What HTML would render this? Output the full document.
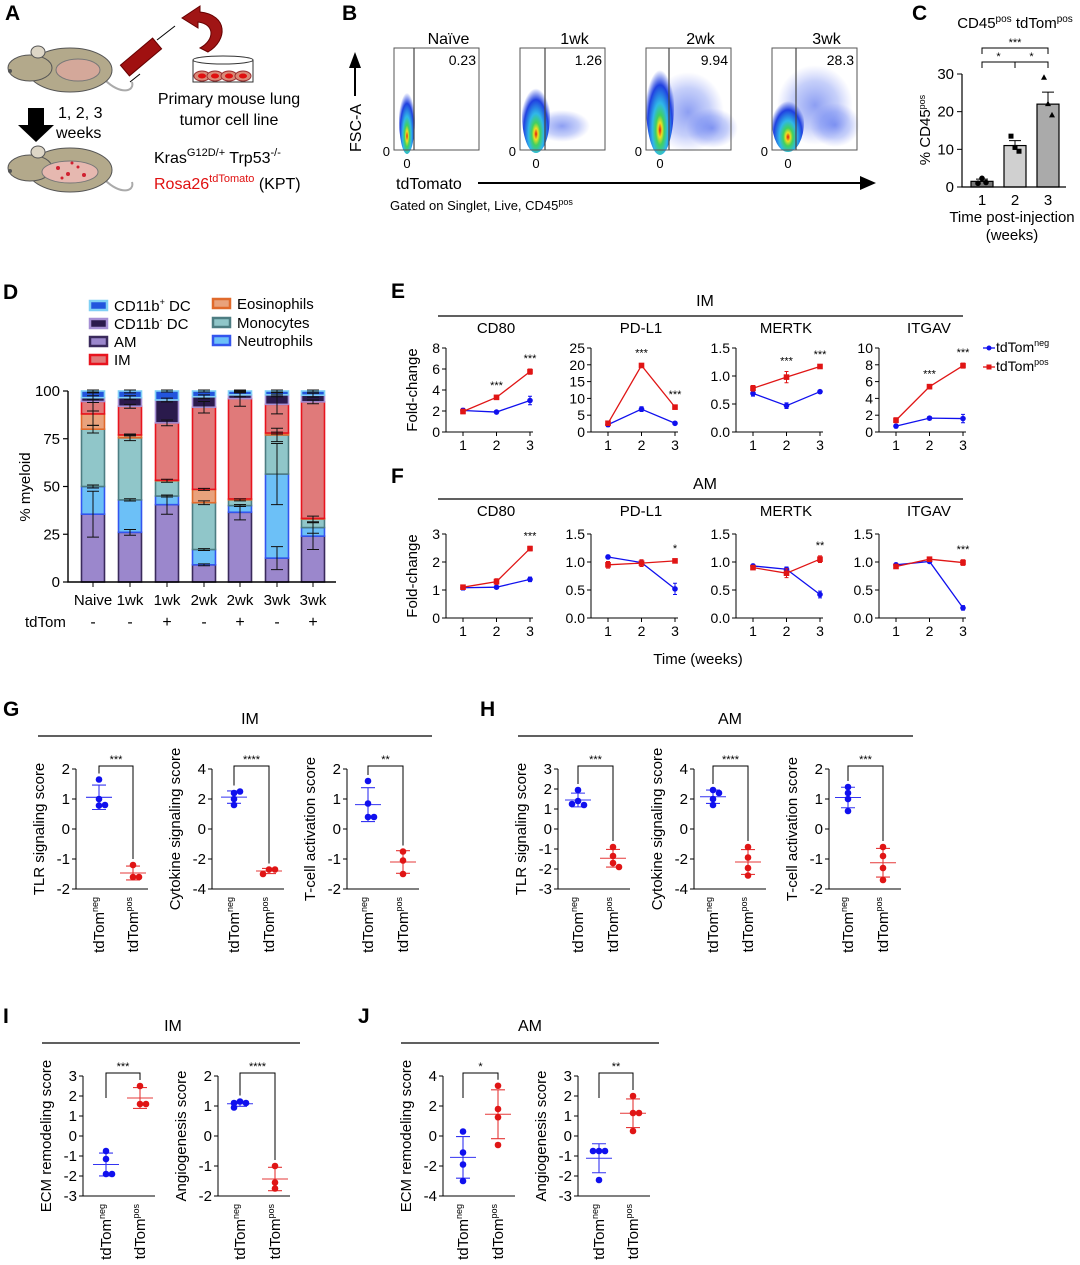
<!DOCTYPE html>
<html><head><meta charset="utf-8"><style>
html,body{margin:0;padding:0;background:#fff}
svg{display:block;font-family:"Liberation Sans",Arial,sans-serif}
</style></head><body>
<svg id="fig" width="1080" height="1265" viewBox="0 0 1080 1265" xmlns="http://www.w3.org/2000/svg">
<defs>
<radialGradient id="den" cx="50%" cy="75%" r="60%">
<stop offset="0" stop-color="#e01010"/><stop offset="0.12" stop-color="#f0e020"/><stop offset="0.25" stop-color="#40d060"/><stop offset="0.45" stop-color="#30b8e8"/><stop offset="0.75" stop-color="#2040e0"/><stop offset="1" stop-color="#2040e0" stop-opacity="0"/>
</radialGradient>
<radialGradient id="cloud" cx="50%" cy="50%" r="50%">
<stop offset="0" stop-color="#3050e8" stop-opacity="0.55"/><stop offset="0.6" stop-color="#4060ee" stop-opacity="0.3"/><stop offset="1" stop-color="#6070f0" stop-opacity="0"/>
</radialGradient>
</defs>
<g font-weight="bold" font-size="21">
<text x="5" y="20">A</text>
<text x="342" y="20">B</text>
<text x="912" y="20">C</text>
<text x="3" y="299">D</text>
<text x="391" y="298">E</text>
<text x="391" y="483">F</text>
<text x="3" y="716">G</text>
<text x="480" y="716">H</text>
<text x="3" y="1023">I</text>
<text x="358" y="1023">J</text>
</g>
<g stroke="#555" stroke-width="1">
<g>
<path d="M105,80 C120,95 135,92 132,82" fill="none" stroke="#aaa" stroke-width="2"/>
<ellipse cx="70" cy="70" rx="42" ry="22" fill="#b3a98b"/>
<ellipse cx="30" cy="68" rx="22" ry="13" fill="#b3a98b"/>
<ellipse cx="38" cy="52" rx="7" ry="6" fill="#ddd6c6"/>
<ellipse cx="78" cy="70" rx="22" ry="11" fill="#d4a89a" stroke="#777"/>
<circle cx="10" cy="71" r="1.5" fill="#555"/>
</g>
<g>
<path d="M105,180 C120,195 135,192 132,182" fill="none" stroke="#aaa" stroke-width="2"/>
<ellipse cx="70" cy="170" rx="42" ry="22" fill="#b3a98b"/>
<ellipse cx="30" cy="168" rx="22" ry="13" fill="#b3a98b"/>
<ellipse cx="38" cy="152" rx="7" ry="6" fill="#ddd6c6"/>
<ellipse cx="70" cy="172" rx="28" ry="11" fill="#e6b8b0" stroke="#777"/>
<g fill="#d02030" stroke="none"><circle cx="58" cy="168" r="2"/><circle cx="68" cy="174" r="2"/><circle cx="78" cy="167" r="1.5"/><circle cx="62" cy="178" r="1.5"/><circle cx="84" cy="175" r="2"/><circle cx="72" cy="163" r="1.5"/></g>
<circle cx="10" cy="171" r="1.5" fill="#555"/>
</g>
<polygon points="28,108 44,108 44,125 54,125 36,142 18,125 28,125" fill="#000" stroke="none"/>
<g>
<line x1="130" y1="82" x2="140" y2="74" stroke="#000"/>
<rect x="134" y="36" width="14" height="42" fill="#a01010" stroke="#600" transform="rotate(50 141 57)"/>
<line x1="157" y1="40" x2="175" y2="26" stroke="#000"/>
<path d="M208,52 C228,40 228,15 200,12 L200,6 L182,18 L198,28 L198,22 C215,24 215,40 200,48 Z" fill="#a01515" stroke="#600"/>
</g>
<g>
<rect x="193" y="60" width="60" height="22" fill="#fff" stroke="#333"/>
<ellipse cx="223" cy="60" rx="30" ry="4" fill="#fff" stroke="#333"/>
<g fill="#d98a78" stroke="#933"><ellipse cx="202" cy="76" rx="8" ry="5"/><ellipse cx="215" cy="76" rx="8" ry="5"/><ellipse cx="229" cy="76" rx="8" ry="5"/><ellipse cx="243" cy="76" rx="8" ry="5"/></g>
<g fill="#e01010" stroke="none"><ellipse cx="202" cy="76" rx="4" ry="2.5"/><ellipse cx="215" cy="76" rx="4" ry="2.5"/><ellipse cx="229" cy="76" rx="4" ry="2.5"/><ellipse cx="243" cy="76" rx="4" ry="2.5"/></g>
</g>
</g>
<g font-size="16" fill="#000">
<text x="58" y="118">1, 2, 3</text>
<text x="56" y="138">weeks</text>
<text x="229" y="104" text-anchor="middle">Primary mouse lung</text>
<text x="229" y="125" text-anchor="middle">tumor cell line</text>
<text x="154" y="163">Kras<tspan font-size="11" dy="-7">G12D/+</tspan><tspan dy="7"> Trp53</tspan><tspan font-size="11" dy="-7">-/-</tspan></text>
<text x="154" y="189"><tspan fill="#e01010">Rosa26</tspan><tspan fill="#e01010" font-size="11" dy="-7">tdTomato</tspan><tspan dy="7"> (KPT)</tspan></text>
</g>
<g>
<text x="0" y="0" font-size="16" transform="translate(361,152) rotate(-90)">FSC-A</text>
<line x1="355" y1="96" x2="355" y2="66" stroke="#000" stroke-width="2"/>
<polygon points="349,68 361,68 355,52" fill="#000"/>
<text x="396" y="189" font-size="16">tdTomato</text>
<line x1="478" y1="183" x2="862" y2="183" stroke="#000" stroke-width="2"/>
<polygon points="860,176 876,183 860,190" fill="#000"/>
<text x="390" y="210" font-size="13">Gated on Singlet, Live, CD45<tspan font-size="9" dy="-5">pos</tspan></text>
</g>
<g id="flow"></g>
<g id="charts"></g>
</svg>
<script>
// ---------- data ----------
const flowLabels=['Naïve','1wk','2wk','3wk'];
const flowPct=['0.23','1.26','9.94','28.3'];

const cWeeks=['1','2','3'];
const cMeans=[1.5,11,22];
const cSem=[0.6,1.3,3.2];
const cPts=[[1.0,2.3,1.2],[13.5,10.5,9.5],[29,22,19]];

const dCats=['Naive','1wk','1wk','2wk','2wk','3wk','3wk'];
const dTdTom=['-','-','+','-','+','-','+'];
const dSeries=['AM','Neutrophils','Monocytes','Eosinophils','IM','CD11b- DC','CD11b+ DC'];
const dAM=[35.5,26,40.5,9,36.5,12.5,24];
const dNeut=[14.5,17,4.5,8,3.5,44,4.5];
const dMono=[30,32.5,8,24.5,3,20.5,4.5];
const dEos=[8,1.5,0.3,7,0.5,1,0.3];
const dIM=[6.5,15,30,43,52.5,15,61];
const dDCm=[2,4.5,12,5.5,2,5,3.5];
const dDCp=[3.5,3.5,4.7,3,2,2,2.2];
const dErrAM=[12,1.5,5,0.5,4,6,7];
const dErrNeut=[0.8,0.6,0.5,0.5,0.5,16,3];
const dErrMono=[2,1.5,0.8,1,0.5,3.5,1.5];
const dErrEos=[6,0.5,0,0.5,0,0.5,0];
const dErrIM=[5,1,1.5,3,4,5,1];
const dErrDCm=[1,1,1,1,1,1,1];
const dErrDCp=[1,1,0.5,0.5,0.5,0.5,0.5];

const weeks=[1,2,3];
const eTitles=['CD80','PD-L1','MERTK','ITGAV'];
const eMax=[8,25,1.5,10];
const eTicks=[['0','2','4','6','8'],['0','5','10','15','20','25'],['0.0','0.5','1.0','1.5'],['0','2','4','6','8','10']];
const eNeg=[[2.05,1.9,3.0],[2.2,6.8,2.6],[0.69,0.47,0.72],[0.7,1.65,1.6]];
const ePos=[[1.95,3.3,5.75],[2.6,19.8,7.4],[0.78,0.98,1.17],[1.4,5.4,7.9]];
const eNegErr=[[0.2,0.15,0.4],[0.6,0.7,0.3],[0.05,0.05,0.02],[0.2,0.2,0.5]];
const ePosErr=[[0.2,0.15,0.25],[0.5,0.6,0.6],[0.05,0.1,0.03],[0.3,0.25,0.3]];
const eStars=[['','***','***'],['','***','***'],['','***','***'],['','***','***']];
const fMax=[3,1.5,1.5,1.5];
const fTicks=[['0','1','2','3'],['0.0','0.5','1.0','1.5'],['0.0','0.5','1.0','1.5'],['0.0','0.5','1.0','1.5']];
const fNeg=[[1.08,1.1,1.38],[1.09,0.99,0.52],[0.93,0.87,0.42],[0.95,1.01,0.18]];
const fPos=[[1.1,1.3,2.48],[0.95,0.98,1.02],[0.9,0.8,1.05],[0.92,1.05,0.99]];
const fNegErr=[[0.08,0.05,0.08],[0.03,0.03,0.1],[0.03,0.04,0.06],[0.03,0.03,0.04]];
const fPosErr=[[0.08,0.1,0.08],[0.06,0.06,0.03],[0.03,0.08,0.06],[0.03,0.03,0.05]];
const fStars=[['','','***'],['','','*'],['','','**'],['','','***']];

const gTitles=['TLR signaling score','Cytokine signaling score','T-cell activation score'];
const gTicks=[[2,1,0,-1,-2],[4,2,0,-2,-4],[2,1,0,-1,-2]];
const gNeg=[[1.65,1.0,0.78,0.8],[2.4,2.5,2.0,1.6],[1.6,0.85,0.4,0.4]];
const gPos=[[-1.2,-1.6,-1.6],[-2.7,-2.7,-3.0],[-0.75,-1.05,-1.5]];
const gStars=['***','****','**'];
const hTicks=[[3,2,1,0,-1,-2,-3],[4,2,0,-2,-4],[2,1,0,-1,-2]];
const hNeg=[[1.95,1.4,1.2,1.25],[2.6,2.4,2.0,1.6],[1.4,1.2,1.0,0.6]];
const hPos=[[-0.9,-1.35,-1.7,-1.9],[-1.2,-1.9,-2.6,-3.1],[-0.6,-0.9,-1.3,-1.7]];
const hStars=['***','****','***'];
const iTitles=['ECM remodeling score','Angiogenesis score'];
const iTicks=[[3,2,1,0,-1,-2,-3],[2,1,0,-1,-2]];
const iNeg=[[-0.75,-1.15,-1.9,-1.9],[1.15,1.1,1.1,0.95]];
const iPos=[[2.5,1.6,1.6],[-1.0,-1.55,-1.75]];
const iStars=['***','****'];
const jTicks=[[4,2,0,-2,-4],[3,2,1,0,-1,-2,-3]];
const jNeg=[[0.3,-1.1,-1.9,-3.0],[-0.75,-0.75,-0.75,-2.2]];
const jPos=[[3.35,1.8,1.25,-0.6],[2.0,1.15,1.15,0.25]];
const jStars=['*','**'];

// ---------- helpers ----------
const NS='http://www.w3.org/2000/svg';
function mk(tag,attrs,parent){const e=document.createElementNS(NS,tag);for(const k in attrs)e.setAttribute(k,attrs[k]);parent.appendChild(e);return e;}
function tx(parent,x,y,s,attrs){const t=mk('text',Object.assign({x:x,y:y},attrs||{}),parent);t.textContent=s;return t;}
const root=document.getElementById('charts');
const BLUE='#1010ee',RED='#e01515';
function mean(a){return a.reduce((p,c)=>p+c,0)/a.length;}
function sd(a){const m=mean(a);return Math.sqrt(a.reduce((p,c)=>p+(c-m)*(c-m),0)/(a.length-1));}

// ---------- Panel B flow ----------
(function(){
  const fg=document.getElementById('flow');
  const bx=[394,520,646,772];
  const gate=[414,545,669,796];
  const shapes=[
    {cx:407,cy:118,rx:8,ry:36,c:[]},
    {cx:536,cy:115,rx:14,ry:38,c:[[562,126,28,16]]},
    {cx:660,cy:105,rx:14,ry:50,c:[[688,112,36,40],[712,128,26,20]]},
    {cx:788,cy:122,rx:16,ry:30,c:[[815,105,38,40],[835,125,25,22]]}
  ];
  for(let i=0;i<4;i++){
    const g=mk('g',{},fg);
    
    
    const x0=bx[i],w=85,y0=48,h=102;
    const t=tx(g,x0+w/2+12,44,flowLabels[i],{'font-size':16,'text-anchor':'middle'});
    
    
    shapes[i].c.forEach(c=>{const e=mk('ellipse',{cx:c[0],cy:c[1],rx:c[2],ry:c[3],fill:'url(#cloud)'},g);
      
      });
    const s=shapes[i];
    const d=mk('ellipse',{cx:s.cx,cy:s.cy,rx:s.rx,ry:s.ry,fill:'url(#den)'},g);
    
    
    const b=mk('rect',{x:x0,y:y0,width:w,height:h,fill:'none',stroke:'#555','stroke-width':1},g);
    
    
    const gl=mk('line',{x1:gate[i],y1:y0,x2:gate[i],y2:y0+h,stroke:'#444','stroke-width':1.2},g);
    
    
    const p=tx(g,x0+w-3,65,flowPct[i],{'font-size':14,'text-anchor':'end'});
    
    
    const z1=tx(g,x0-4,156,'0',{'font-size':13,'text-anchor':'end'});
    
    
    const z2=tx(g,s.cx,168,'0',{'font-size':13,'text-anchor':'middle'});
    
    
  }
})();

// ---------- Panel C ----------
(function(){
  const g=mk('g',{},root);
  
  
  const ax=962,y0=187,ppu=(187-74)/30;
  const ys=v=>y0-v*ppu;
  const xs=[982,1015,1048];
  const cols=['#777','#d0d0d0','#aaa'];
  const t=tx(g,1015,28,'CD45',{'font-size':15,'text-anchor':'middle'});
  t.innerHTML='CD45<tspan font-size="10" dy="-6">pos</tspan><tspan dy="6"> tdTom</tspan><tspan font-size="10" dy="-6">pos</tspan>';
  
  
  [0,10,20,30].forEach(v=>{
    const tk=mk('line',{x1:ax-5,x2:ax,y1:ys(v),y2:ys(v),stroke:'#000'},g);
    
    
    const l=tx(g,ax-8,ys(v)+5,String(v),{'font-size':15,'text-anchor':'end'});
    
    
  });
  cMeans.forEach((m,i)=>{
    const r=mk('rect',{x:xs[i]-11,y:ys(m),width:22,height:y0-ys(m),fill:cols[i],stroke:'#000','stroke-width':1.2},g);
    
    
    const e=mk('path',{d:`M${xs[i]},${ys(m)} V${ys(m+cSem[i])} M${xs[i]-6},${ys(m+cSem[i])} H${xs[i]+6}`,stroke:'#000',fill:'none'},g);
    
    
    cPts[i].forEach((v,j)=>{
      const px=xs[i]+(j-1)*4;
      let d;
      if(i==0) d=mk('circle',{cx:px,cy:ys(v),r:2.8,fill:'#000'},g);
      else if(i==1) d=mk('rect',{x:px-2.5,y:ys(v)-2.5,width:5,height:5,fill:'#000'},g);
      else d=mk('path',{d:`M${px},${ys(v)-3.5} L${px+3},${ys(v)+2} L${px-3},${ys(v)+2} Z`,fill:'#000'},g);
      
      
    });
    const xl=tx(g,xs[i],205,cWeeks[i],{'font-size':15,'text-anchor':'middle'});
    
    
  });
  const axl=mk('path',{d:`M${ax},${ys(30)} V${y0} H1066`,stroke:'#000',fill:'none','stroke-width':1.2},g);
  
  
  const brs=[[xs[0],xs[2],48,'***'],[xs[0],xs[1],62,'*'],[xs[1],xs[2],62,'*']];
  brs.forEach(b=>{
    const p=mk('path',{d:`M${b[0]},${b[2]+6} V${b[2]} H${b[1]} V${b[2]+6}`,stroke:'#000',fill:'none'},g);
    
    
    const s=tx(g,(b[0]+b[1])/2,b[2]-2,b[3],{'font-size':11,'text-anchor':'middle'});
    
    
  });
  const yl=tx(g,0,0,'',{'font-size':15,'text-anchor':'middle',transform:'translate(930,130) rotate(-90)'});
  yl.innerHTML='% CD45<tspan font-size="9" dy="-5">pos</tspan>';
  
  
  const x1=tx(g,1012,222,'Time post-injection',{'font-size':15,'text-anchor':'middle'});
  
  
  const x2=tx(g,1012,240,'(weeks)',{'font-size':15,'text-anchor':'middle'});
  
  
})();

// ---------- Panel D ----------
(function(){
  const g=mk('g',{},root);
  
  
  const ax=68,y0=582,ppu=(582-391)/100;
  const ys=v=>y0-v*ppu;
  const xs=[93,130,167,204,240,277,313];
  const series=[dAM,dNeut,dMono,dEos,dIM,dDCm,dDCp];
  const errs=[dErrAM,dErrNeut,dErrMono,dErrEos,dErrIM,dErrDCm,dErrDCp];
  const fills=['#9b87cc','#6cc0f7','#90c6c9','#e9a27c','#e07a7a','#2a1a4c','#2255dd'];
  const strokes=['#3a2a5c','#3355ee','#4d7d82','#e06a2c','#e8141e','#a58fd4','#80d0f5'];
  const legend=[[90,311,6,'CD11b','+',' DC'],[90,329,5,'CD11b','-',' DC'],[90,347,0,'AM','',''],[90,365,4,'IM','',''],[213,309,3,'Eosinophils','',''],[213,328,2,'Monocytes','',''],[213,346,1,'Neutrophils','','']];
  legend.forEach(L=>{
    const r=mk('rect',{x:L[0],y:L[1]-10,width:17,height:9,fill:fills[L[2]],stroke:strokes[L[2]],'stroke-width':2.5},g);
    
    
    const t=tx(g,L[0]+24,L[1],'',{'font-size':15});
    t.innerHTML=L[3]+(L[4]?'<tspan font-size="9" dy="-6">'+L[4]+'</tspan><tspan dy="6">'+L[5]+'</tspan>':'');
    
    
  });
  [0,25,50,75,100].forEach(v=>{
    const tk=mk('line',{x1:ax-5,x2:ax,y1:ys(v),y2:ys(v),stroke:'#000','stroke-width':1.2},g);
    
    
    const l=tx(g,ax-8,ys(v)+5,String(v),{'font-size':15,'text-anchor':'end'});
    
    
  });
  xs.forEach((x,i)=>{
    let base=0;
    series.forEach((s,k)=>{
      const v=s[i];
      const r=mk('rect',{x:x-11.5,y:ys(base+v),width:23,height:v*ppu,fill:fills[k],stroke:strokes[k],'stroke-width':1.6},g);
      
      
      base+=v;
    });
    base=0;
    series.forEach((s,k)=>{
      base+=s[i];const e=errs[k][i];
      if(e>0){
        const p=mk('path',{d:`M${x},${ys(base-e)} V${ys(Math.min(base+e,100.5))} M${x-6},${ys(base-e)} H${x+6} M${x-6},${ys(Math.min(base+e,100.5))} H${x+6}`,stroke:'#111',fill:'none','stroke-width':1},g);
        
        
      }
    });
    const tk=mk('line',{x1:x,x2:x,y1:y0,y2:y0+5,stroke:'#000'},g);
    
    
    const l=tx(g,x,605,dCats[i],{'font-size':15,'text-anchor':'middle'});
    
    
    const s=tx(g,x,627,dTdTom[i],{'font-size':16,'text-anchor':'middle'});
    
    
  });
  const axl=mk('path',{d:`M${ax},${ys(100)} V${y0} H336`,stroke:'#000',fill:'none','stroke-width':1.4},g);
  
  
  const tl=tx(g,25,627,'tdTom',{'font-size':15});
  
  
  const yl=tx(g,0,0,'% myeloid',{'font-size':15,'text-anchor':'middle',transform:'translate(30,487) rotate(-90)'});
  
  
})();

// ---------- Panels E,F ----------
function lineRow(name,header,yHead,yTop,y0,maxes,ticks,neg,pos,negE,posE,stars){
  const g=mk('g',{},root);
  
  
  const h=tx(g,705,yHead,header,{'font-size':16,'text-anchor':'middle'});
  
  
  const hl=mk('line',{x1:438,x2:963,y1:yHead+10,y2:yHead+10,stroke:'#000','stroke-width':1.2},g);
  
  
  const axes=[446,591,736,879];
  const yl=tx(g,0,0,'Fold-change',{'font-size':15,'text-anchor':'middle',transform:`translate(417,${(yTop+y0)/2}) rotate(-90)`});
  
  
  for(let p=0;p<4;p++){
    const ax=axes[p];
    const ys=v=>y0-v/maxes[p]*(y0-yTop);
    const xs=w=>ax+17+(w-1)*33.5;
    const t=tx(g,ax+50,yHead+27,eTitles[p],{'font-size':15,'text-anchor':'middle'});
    
    
    const n=ticks[p].length;
    ticks[p].forEach((lab,k)=>{
      const v=maxes[p]*k/(n-1);
      const tk=mk('line',{x1:ax-4,x2:ax,y1:ys(v),y2:ys(v),stroke:'#000'},g);
      
      
      const l=tx(g,ax-6,ys(v)+5,lab,{'font-size':14,'text-anchor':'end'});
      
      
    });
    weeks.forEach(w=>{
      const tk=mk('line',{x1:xs(w),x2:xs(w),y1:y0,y2:y0+4,stroke:'#000'},g);
      
      
      const l=tx(g,xs(w),y0+18,String(w),{'font-size':14,'text-anchor':'middle'});
      
      
    });
    const axl=mk('path',{d:`M${ax},${yTop} V${y0} H${ax+87}`,stroke:'#000',fill:'none'},g);
    
    
    [[neg[p],negE[p],BLUE,'tdtom-neg'],[pos[p],posE[p],RED,'tdtom-pos']].forEach(S=>{
      const d=S[0].map((v,k)=>(k?'L':'M')+xs(weeks[k])+','+ys(v)).join(' ');
      const ln=mk('path',{d:d,stroke:S[2],fill:'none','stroke-width':1.3},g);
      
      
      S[0].forEach((v,k)=>{
        const x=xs(weeks[k]);
        const eb=mk('path',{d:`M${x},${ys(v-S[1][k])} V${ys(v+S[1][k])} M${x-2},${ys(v-S[1][k])} H${x+2} M${x-2},${ys(v+S[1][k])} H${x+2}`,stroke:S[2],fill:'none'},g);
        
        
        let m;
        if(S[2]===RED) m=mk('rect',{x:x-2.8,y:ys(v)-2.8,width:5.6,height:5.6,fill:S[2]},g);
        else m=mk('circle',{cx:x,cy:ys(v),r:2.8,fill:S[2]},g);
        
        
      });
    });
    stars[p].forEach((s,k)=>{
      if(!s)return;
      const top=Math.max(pos[p][k]+posE[p][k],neg[p][k]+negE[p][k]);
      const st=tx(g,xs(weeks[k]),ys(top)-7,s,{'font-size':11,'text-anchor':'middle'});
      
      
    });
  }
}
lineRow('panel-e-im-line-charts','IM',306,348,432,eMax,eTicks,eNeg,ePos,eNegErr,ePosErr,eStars);
lineRow('panel-f-am-line-charts','AM',489,534,618,fMax,fTicks,fNeg,fPos,fNegErr,fPosErr,fStars);
(function(){
  const g=mk('g',{},root);
  
  
  [[352,BLUE,'neg'],[371,RED,'pos']].forEach(L=>{
    const ln=mk('line',{x1:983,x2:995,y1:L[0]-4,y2:L[0]-4,stroke:L[1],'stroke-width':1.3},g);
    
    
    let m;
    if(L[2]==='pos') m=mk('rect',{x:986.5,y:L[0]-6.5,width:5,height:5,fill:L[1]},g);
    else m=mk('circle',{cx:989,cy:L[0]-4,r:2.5,fill:L[1]},g);
    
    
    const t=tx(g,996,L[0],'',{'font-size':14});
    t.innerHTML='tdTom<tspan font-size="9" dy="-6">'+L[2]+'</tspan>';
    
    
  });
  const xt=tx(g,698,664,'Time (weeks)',{'font-size':15,'text-anchor':'middle'});
  
  
})();

// ---------- dot plots ----------
function dotPlot(parent,name,ax,yTop,yBot,ticks,title,neg,pos,star,xn,xp){
  const g=mk('g',{},parent);
  
  
  const tmax=ticks[0],tmin=ticks[ticks.length-1];
  const ys=v=>yTop+(tmax-v)/(tmax-tmin)*(yBot-yTop);
  ticks.forEach(v=>{
    const tk=mk('line',{x1:ax-4,x2:ax,y1:ys(v),y2:ys(v),stroke:'#000'},g);
    
    
    const l=tx(g,ax-6,ys(v)+5,String(v),{'font-size':15,'text-anchor':'end'});
    
    
  });
  const axl=mk('path',{d:`M${ax},${yTop} V${yBot} H${ax+72}`,stroke:'#000',fill:'none'},g);
  
  
  const yl=tx(g,0,0,title,{'font-size':15,'text-anchor':'middle',transform:`translate(${ax-32},${(yTop+yBot)/2}) rotate(-90)`});
  
  
  [[neg,xn,BLUE,'neg'],[pos,xp,RED,'pos']].forEach(S=>{
    const m=mean(S[0]),s=sd(S[0]),x=S[1];
    const eb=mk('path',{d:`M${x-13},${ys(m)} H${x+13} M${x},${ys(m-s)} V${ys(m+s)} M${x-7},${ys(m-s)} H${x+7} M${x-7},${ys(m+s)} H${x+7}`,stroke:S[2],fill:'none','stroke-width':1.1,opacity:0.85},g);
    
    
    const placed=[];
    S[0].forEach(v=>{
      const y=ys(v);
      const near=placed.filter(p=>Math.abs(p-y)<5).length;
      const off=near===0?0:(near%2?1:-1)*Math.ceil(near/2)*6;
      placed.push(y);
      const c=mk('circle',{cx:x+off,cy:y,r:3.3,fill:S[2]},g);
      
      
    });
    const lab=tx(g,0,0,'',{'font-size':15,'text-anchor':'end',transform:`translate(${x+5},${yBot+8}) rotate(-90)`});
    lab.innerHTML='tdTom<tspan font-size="9" dy="-6">'+S[3]+'</tspan>';
    
    
  });
  const topN=ys(Math.max(...neg)),topP=ys(Math.max(...pos));
  const yb=yTop-3;
  const br=mk('path',{d:`M${xn},${Math.min(topN-6,yb+25)} V${yb} H${xp} V${topP-6}`,stroke:'#000',fill:'none'},g);
  
  
  const st=tx(g,(xn+xp)/2,yb-3,star,{'font-size':11,'text-anchor':'middle'});
  
  
}
function header(name,label,cx,y,x1,x2){
  const g=mk('g',{},root);
  
  
  const t=tx(g,cx,y,label,{'font-size':16,'text-anchor':'middle'});
  
  
  const l=mk('line',{x1:x1,x2:x2,y1:y+12,y2:y+12,stroke:'#000','stroke-width':1.2},g);
  
  
  return g;
}
const gG=header('panel-g-im-scores','IM',250,724,38,432);
[[76,99,133],[212,234,269],[347,368,403]].forEach((a,i)=>dotPlot(gG,'plot-g-'+i,a[0],769,889,gTicks[i],gTitles[i],gNeg[i],gPos[i],gStars[i],a[1],a[2]));
const gH=header('panel-h-am-scores','AM',730,724,518,913);
[[558,578,613],[694,713,748],[829,848,883]].forEach((a,i)=>dotPlot(gH,'plot-h-'+i,a[0],769,889,hTicks[i],gTitles[i],hNeg[i],hPos[i],hStars[i],a[1],a[2]));
const gI=header('panel-i-im-scores','IM',173,1031,42,300);
[[83,106,140],[218,240,275]].forEach((a,i)=>dotPlot(gI,'plot-i-'+i,a[0],1076,1196,iTicks[i],iTitles[i],iNeg[i],iPos[i],iStars[i],a[1],a[2]));
const gJ=header('panel-j-am-scores','AM',530,1031,401,659);
[[443,463,498],[578,599,633]].forEach((a,i)=>dotPlot(gJ,'plot-j-'+i,a[0],1076,1196,jTicks[i],iTitles[i],jNeg[i],jPos[i],jStars[i],a[1],a[2]));
</script>
</body></html>
